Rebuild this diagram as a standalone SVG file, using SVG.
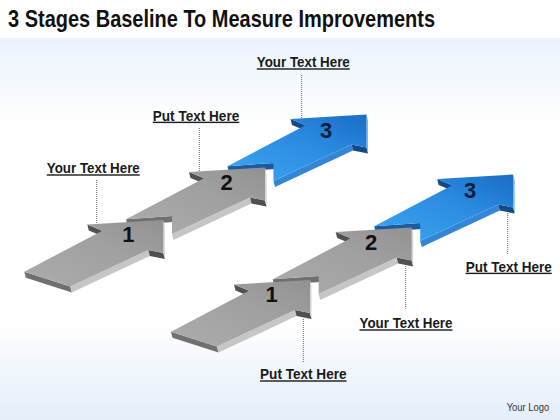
<svg xmlns="http://www.w3.org/2000/svg" xmlns:xlink="http://www.w3.org/1999/xlink" width="560" height="420" viewBox="0 0 560 420">
<defs>
<linearGradient id="bgTop" x1="0" y1="0" x2="0" y2="1"><stop offset="0" stop-color="#eaf3fc"/><stop offset="1" stop-color="#ffffff"/></linearGradient>
<linearGradient id="bgBot" x1="0" y1="0" x2="0" y2="1"><stop offset="0" stop-color="#ffffff"/><stop offset="1" stop-color="#e4eef9"/></linearGradient>
<linearGradient id="grayTop" x1="0" y1="1" x2="1" y2="0"><stop offset="0" stop-color="#acacac"/><stop offset="0.6" stop-color="#a0a0a0"/><stop offset="1" stop-color="#929292"/></linearGradient>
<linearGradient id="blueTop" x1="0" y1="1" x2="1" y2="0"><stop offset="0" stop-color="#3ea6f2"/><stop offset="0.6" stop-color="#2a8ae0"/><stop offset="1" stop-color="#1a6cc4"/></linearGradient>
<style>
.t{font-family:"Liberation Sans",Arial,sans-serif;font-weight:bold}
.title{font-size:24px;fill:#111}
.lbl{font-size:14px;fill:#1a1a1a;text-decoration:underline;text-anchor:middle}
.num{font-size:22px;text-anchor:middle;fill:#111}
.numb{font-size:22px;text-anchor:middle;fill:#0b1c3c}
.logo{font-family:"Liberation Sans",Arial,sans-serif;font-size:10.5px;fill:#333}
.lead{stroke:#666;stroke-width:1;stroke-dasharray:1 1;fill:none}
.gTopF{fill:url(#grayTop)}
.gTail{fill:#707070}
.gLow{fill:#c6c6c6}
.gBarb{fill:#505050}
.gRight{fill:#d4d4d4}
.bTopF{fill:url(#blueTop)}
.bTail{fill:#1a5c9e}
.bLow{fill:#3386d6}
.bBarb{fill:#134a85}
.bRight{fill:#7ab8ea}
</style>
</defs>
<rect x="0" y="0" width="560" height="420" fill="#ffffff"/>
<rect x="0" y="38" width="560" height="90" fill="url(#bgTop)"/>
<rect x="0" y="320" width="560" height="100" fill="url(#bgBot)"/>
<text class="t title" x="8" y="27" textLength="427" lengthAdjust="spacingAndGlyphs">3 Stages Baseline To Measure Improvements</text>

<g id="connectors">
<line class="lead" x1="96.7" y1="180" x2="96.7" y2="224"/>
<line class="lead" x1="199.3" y1="128" x2="199.3" y2="171"/>
<line class="lead" x1="301.7" y1="75" x2="301.7" y2="118.5"/>
<line class="lead" x1="303.3" y1="319" x2="303.3" y2="362"/>
<line class="lead" x1="405.7" y1="266" x2="405.7" y2="308.5"/>
<line class="lead" x1="507.7" y1="213" x2="507.7" y2="255"/>
</g>

<!-- Left group: back to front -->
<g id="left-arrow-3" transform="translate(366.5,114.5)">
<polygon class="bTail" points="-139,51.7 -93,48.5 -91.5,54.5 -137.5,57.7"/>
<polygon class="bLow" points="-93,66.5 -15,30 -13.5,36 -91.5,72.5"/>
<polygon class="bBarb" points="-15,30 0,33 1.5,39 -13.5,36"/>
<polygon class="bRight" points="0,33 0,0 1.5,6 1.5,39"/>
<polygon class="bBarb" points="-76,4.5 -61,10.7 -59.5,16.7 -74.5,10.5"/>
<polygon class="bTopF" points="0,0 0,33 -15,30 -93,66.5 -93,48.5 -139,51.7 -61,10.7 -76,4.5"/>
<text class="t numb" x="-40.5" y="23.8">3</text>
</g>
<g id="left-arrow-2" transform="translate(265,167.5)">
<polygon class="gTail" points="-139,51.7 -93,48.5 -91.5,54.5 -137.5,57.7"/>
<polygon class="gLow" points="-93,66.5 -15,30 -13.5,36 -91.5,72.5"/>
<polygon class="gBarb" points="-15,30 0,33 1.5,39 -13.5,36"/>
<polygon class="gRight" points="0,33 0,0 1.5,6 1.5,39"/>
<polygon class="gBarb" points="-76,4.5 -61,10.7 -59.5,16.7 -74.5,10.5"/>
<polygon class="gTopF" points="0,0 0,33 -15,30 -93,66.5 -93,48.5 -139,51.7 -61,10.7 -76,4.5"/>
<text class="t num" x="-38.5" y="22.5">2</text>
</g>
<g id="left-arrow-1" transform="translate(163.3,220)">
<polygon class="gTail" points="-139,51.7 -93,66.5 -91.5,72.5 -137.5,57.7"/>
<polygon class="gLow" points="-93,66.5 -15,30 -13.5,36 -91.5,72.5"/>
<polygon class="gBarb" points="-15,30 0,33 1.5,39 -13.5,36"/>
<polygon class="gRight" points="0,33 0,0 1.5,6 1.5,39"/>
<polygon class="gBarb" points="-76,4.5 -61,10.7 -59.5,16.7 -74.5,10.5"/>
<polygon class="gTopF" points="0,0 0,33 -15,30 -93,66.5 -139,51.7 -61,10.7 -76,4.5"/>
<text class="t num" x="-35" y="21.7">1</text>
</g>

<!-- Right group -->
<g id="right-arrow-3" transform="translate(513.2,174.5)">
<polygon class="bTail" points="-139,51.7 -93,48.5 -91.5,54.5 -137.5,57.7"/>
<polygon class="bLow" points="-93,66.5 -15,30 -13.5,36 -91.5,72.5"/>
<polygon class="bBarb" points="-15,30 0,33 1.5,39 -13.5,36"/>
<polygon class="bRight" points="0,33 0,0 1.5,6 1.5,39"/>
<polygon class="bBarb" points="-76,4.5 -61,10.7 -59.5,16.7 -74.5,10.5"/>
<polygon class="bTopF" points="0,0 0,33 -15,30 -93,66.5 -93,48.5 -139,51.7 -61,10.7 -76,4.5"/>
<text class="t numb" x="-43" y="23.8">3</text>
</g>
<g id="right-arrow-2" transform="translate(411.7,227.5)">
<polygon class="gTail" points="-139,51.7 -93,48.5 -91.5,54.5 -137.5,57.7"/>
<polygon class="gLow" points="-93,66.5 -15,30 -13.5,36 -91.5,72.5"/>
<polygon class="gBarb" points="-15,30 0,33 1.5,39 -13.5,36"/>
<polygon class="gRight" points="0,33 0,0 1.5,6 1.5,39"/>
<polygon class="gBarb" points="-76,4.5 -61,10.7 -59.5,16.7 -74.5,10.5"/>
<polygon class="gTopF" points="0,0 0,33 -15,30 -93,66.5 -93,48.5 -139,51.7 -61,10.7 -76,4.5"/>
<text class="t num" x="-40.5" y="22.5">2</text>
</g>
<g id="right-arrow-1" transform="translate(310,280)">
<polygon class="gTail" points="-139,51.7 -93,66.5 -91.5,72.5 -137.5,57.7"/>
<polygon class="gLow" points="-93,66.5 -15,30 -13.5,36 -91.5,72.5"/>
<polygon class="gBarb" points="-15,30 0,33 1.5,39 -13.5,36"/>
<polygon class="gRight" points="0,33 0,0 1.5,6 1.5,39"/>
<polygon class="gBarb" points="-76,4.5 -61,10.7 -59.5,16.7 -74.5,10.5"/>
<polygon class="gTopF" points="0,0 0,33 -15,30 -93,66.5 -139,51.7 -61,10.7 -76,4.5"/>
<text class="t num" x="-38.3" y="21.7">1</text>
</g>

<g id="label-left-1"><text class="t lbl" x="93.3" y="173.3" textLength="93" lengthAdjust="spacingAndGlyphs">Your Text Here</text></g>
<g id="label-left-2"><text class="t lbl" x="196" y="120.7" textLength="86.5" lengthAdjust="spacingAndGlyphs">Put Text Here</text></g>
<g id="label-left-3"><text class="t lbl" x="303.3" y="67.3" textLength="93" lengthAdjust="spacingAndGlyphs">Your Text Here</text></g>
<g id="label-right-1"><text class="t lbl" x="303.3" y="379.3" textLength="86.5" lengthAdjust="spacingAndGlyphs">Put Text Here</text></g>
<g id="label-right-2"><text class="t lbl" x="406" y="328.3" textLength="93" lengthAdjust="spacingAndGlyphs">Your Text Here</text></g>
<g id="label-right-3"><text class="t lbl" x="508.7" y="271.7" textLength="86" lengthAdjust="spacingAndGlyphs">Put Text Here</text></g>
<text class="logo" x="506.7" y="410.7" textLength="42.6" lengthAdjust="spacingAndGlyphs">Your Logo</text>
</svg>
